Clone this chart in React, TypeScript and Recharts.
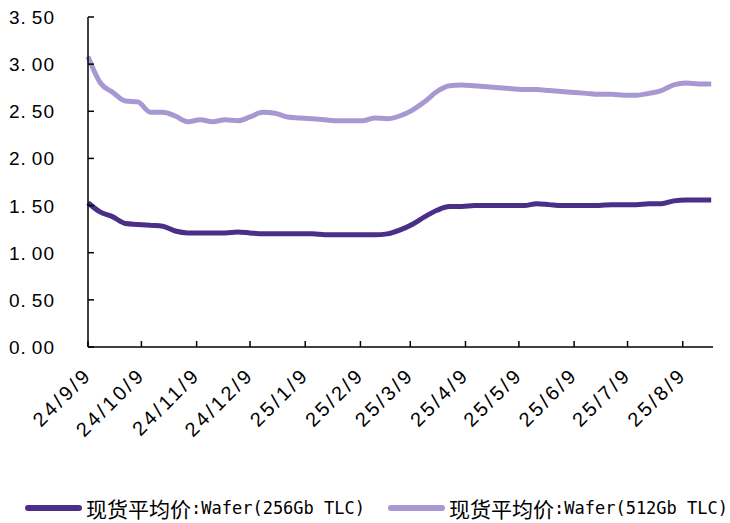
import React from "react";
import { LineChart, Line, XAxis, YAxis } from "recharts";

const weekStarts = [
  "2024-09-09", "2024-09-16", "2024-09-23", "2024-09-30", "2024-10-07", "2024-10-14", "2024-10-21",
  "2024-10-28", "2024-11-04", "2024-11-11", "2024-11-18", "2024-11-25", "2024-12-02", "2024-12-09",
  "2024-12-16", "2024-12-23", "2024-12-30", "2025-01-06", "2025-01-13", "2025-01-20", "2025-01-27",
  "2025-02-03", "2025-02-10", "2025-02-17", "2025-02-24", "2025-03-03", "2025-03-10", "2025-03-17",
  "2025-03-24", "2025-03-31", "2025-04-07", "2025-04-14", "2025-04-21", "2025-04-28", "2025-05-05",
  "2025-05-12", "2025-05-19", "2025-05-26", "2025-06-02", "2025-06-09", "2025-06-16", "2025-06-23",
  "2025-06-30", "2025-07-07", "2025-07-14", "2025-07-21", "2025-07-28", "2025-08-04", "2025-08-11",
  "2025-08-18", "2025-08-25",
];

const wafer256 = [
  1.53, 1.43, 1.38, 1.31, 1.30, 1.29, 1.28, 1.23, 1.21, 1.21, 1.21, 1.21, 1.22, 1.21, 1.20, 1.20,
  1.20, 1.20, 1.20, 1.19, 1.19, 1.19, 1.19, 1.19, 1.20, 1.24, 1.30, 1.38, 1.45, 1.49, 1.49, 1.50,
  1.50, 1.50, 1.50, 1.50, 1.52, 1.51, 1.50, 1.50, 1.50, 1.50, 1.51, 1.51, 1.51, 1.52, 1.52, 1.55,
  1.56, 1.56, 1.56,
];

const wafer512 = [
  3.08, 2.80, 2.70, 2.61, 2.60, 2.49, 2.49, 2.45, 2.39, 2.41, 2.39, 2.41, 2.40, 2.44, 2.49, 2.48,
  2.44, 2.43, 2.42, 2.41, 2.40, 2.40, 2.40, 2.43, 2.42, 2.45, 2.51, 2.60, 2.71, 2.77, 2.78, 2.77,
  2.76, 2.75, 2.74, 2.73, 2.73, 2.72, 2.71, 2.70, 2.69, 2.68, 2.68, 2.67, 2.67, 2.69, 2.72, 2.78,
  2.80, 2.79, 2.79,
];

const xTickLabels = [
  "24/9/9", "24/10/9", "24/11/9", "24/12/9", "25/1/9", "25/2/9",
  "25/3/9", "25/4/9", "25/5/9", "25/6/9", "25/7/9", "25/8/9",
];

const yTicks = [0, 0.5, 1, 1.5, 2, 2.5, 3, 3.5];

const seriesPrefix = "现货平均价";
const seriesSuffix = [":Wafer(256Gb TLC)", ":Wafer(512Gb TLC)"];
const seriesColors = ["#4b2e87", "#a898d1"];

const DAY = 86400000;
const START = Date.UTC(2024, 8, 9);
const toDay = (t: number) => Math.round((t - START) / DAY);
const isoDay = (s: string) => {
  const [y, m, d] = s.split("-").map(Number);
  return toDay(Date.UTC(y, m - 1, d));
};
const labelDay = (s: string) => {
  const [y, m, d] = s.split("/").map(Number);
  return toDay(Date.UTC(2000 + y, m - 1, d));
};

const data = weekStarts.map((w, i) => ({ day: isoDay(w), a: wafer256[i], b: wafer512[i] }));
const xTicks = xTickLabels.map(labelDay);
const labelByDay: Record<number, string> = {};
xTickLabels.forEach((l, i) => (labelByDay[xTicks[i]] = l));

const SANS = "'Liberation Sans', Arial, sans-serif";
const MONO = "'DejaVu Sans Mono', monospace";
const CJK = "'Noto Sans CJK SC', sans-serif";

const XTick = (props: any) => {
  const { x, y, payload } = props;
  const label = labelByDay[payload.value] ?? "";
  const ax = x + 5;
  const ay = y + 29;
  return (
    <g>
      <line x1={x} y1={y} x2={x} y2={y - 6} stroke="#000" strokeWidth={1.5} />
      <text
        x={ax}
        y={ay}
        textAnchor="end"
        fontSize={20}
        letterSpacing={3}
        fontFamily={SANS}
        fill="#000"
        transform={`rotate(-45, ${ax}, ${ay})`}
      >
        {label}
      </text>
    </g>
  );
};

const YTick = (props: any) => {
  const { x, y, payload } = props;
  const [intPart, decPart] = payload.value.toFixed(2).split(".");
  return (
    <g>
      <line x1={x} y1={y} x2={x + 6} y2={y} stroke="#000" strokeWidth={1.5} />
      <text x={x - 33} y={y + 7} textAnchor="end" fontSize={19} letterSpacing={1} fontFamily={SANS} fill="#000">
        {intPart}.<tspan dx={5}>{decPart}</tspan>
      </text>
    </g>
  );
};

const legendLeft = [25, 388];

export default function App() {
  return (
    <div style={{ position: "absolute", left: 0, top: 0, width: 730, height: 523, background: "#fff", overflow: "hidden" }}>
      <LineChart width={730} height={523} data={data} margin={{ top: 17, right: 17, bottom: 0, left: 8 }}>
        <XAxis
          dataKey="day"
          type="number"
          domain={[0, 351]}
          ticks={xTicks}
          interval={0}
          tickLine={false}
          tickSize={0}
          tickMargin={0}
          height={176}
          axisLine={{ stroke: "#000", strokeWidth: 1.5 }}
          tick={<XTick />}
        />
        <YAxis
          type="number"
          domain={[0, 3.5]}
          ticks={yTicks}
          interval={0}
          tickLine={false}
          tickSize={0}
          tickMargin={0}
          width={80}
          axisLine={{ stroke: "#000", strokeWidth: 1.5 }}
          tick={<YTick />}
        />
        <Line type="monotone" dataKey="a" stroke={seriesColors[0]} strokeWidth={5} dot={false} isAnimationActive={false} />
        <Line type="monotone" dataKey="b" stroke={seriesColors[1]} strokeWidth={5} dot={false} isAnimationActive={false} />
      </LineChart>
      {seriesSuffix.map((s, i) => (
        <div
          key={s}
          style={{
            position: "absolute",
            top: 495,
            left: legendLeft[i],
            height: 26,
            display: "flex",
            alignItems: "center",
            whiteSpace: "nowrap",
            color: "#000",
          }}
        >
          <span style={{ flexShrink: 0, display: "inline-block", width: 57, height: 6, borderRadius: 3, background: seriesColors[i], marginRight: 4 }} />
          <span style={{ fontFamily: CJK, fontSize: 21, lineHeight: "26px" }}>{seriesPrefix}</span>
          <span style={{ fontFamily: MONO, fontSize: 17, lineHeight: "26px" }}>{s}</span>
        </div>
      ))}
    </div>
  );
}
